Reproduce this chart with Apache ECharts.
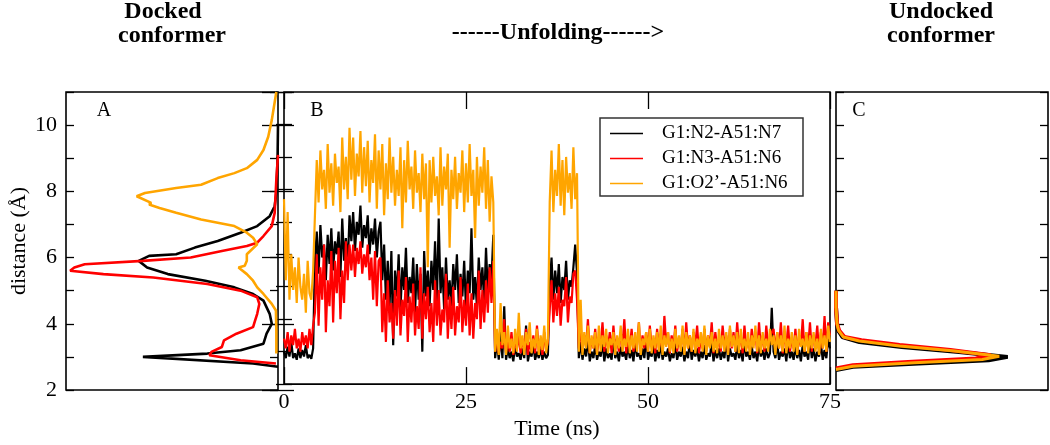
<!DOCTYPE html>
<html>
<head>
<meta charset="utf-8">
<script src="https://cdn.jsdelivr.net/npm/echarts@6/dist/echarts.min.js"></script>
<style>html,body{margin:0;padding:0;background:#fff;}#c{width:1050px;height:445px;}</style>
</head>
<body>
<div id="c"></div>
<script>
// ---------- names / colours ----------
const seriesNames = ['G1:N2-A51:N7', 'G1:N3-A51:N6', 'G1:O2\u2019-A51:N6'];
const seriesColors = ['#000000', '#ff0000', '#ffa500'];

// ---------- Panel A (docked conformer distributions) : distance / relative population ----------
const aBlackDist = [2.7,2.8,3.0,3.1,3.2,3.4,3.7,4.0,4.3,4.7,4.9,5.1,5.3,5.5,5.7,5.9,6.05,6.1,6.3,6.5,6.75,6.95,7.25,7.55,7.95,9.0,10.0];
const aBlackProb = [0,0.12,0.65,0.34,0.18,0.07,0.055,0.03,0.04,0.07,0.12,0.21,0.35,0.53,0.63,0.67,0.62,0.49,0.40,0.29,0.18,0.10,0.04,0.016,0.008,0.002,0];
const aRedDist = [2.8,2.9,3.05,3.15,3.3,3.5,3.7,3.9,4.1,4.3,4.6,4.8,5.0,5.2,5.4,5.5,5.6,5.7,5.8,5.9,6.0,6.2,6.35,6.45,6.65,6.95,7.35,8.35,9.1];
const aRedProb = [0.01,0.18,0.33,0.32,0.27,0.26,0.20,0.12,0.11,0.10,0.09,0.10,0.18,0.34,0.60,0.84,1.0,0.98,0.93,0.65,0.42,0.27,0.15,0.10,0.07,0.03,0.016,0.008,0];
const aOrangeDist = [3.1,3.8,4.4,4.6,4.9,5.1,5.3,5.5,5.7,5.75,5.9,6.1,6.4,6.6,6.75,6.95,7.15,7.35,7.5,7.6,7.65,7.85,7.95,8.1,8.2,8.4,8.55,8.7,8.95,9.25,9.65,10.15,11.0];
const aOrangeProb = [0.008,0.008,0.01,0.03,0.07,0.10,0.12,0.15,0.19,0.16,0.15,0.15,0.10,0.12,0.15,0.21,0.37,0.49,0.57,0.62,0.61,0.68,0.64,0.49,0.37,0.29,0.21,0.15,0.10,0.07,0.047,0.03,0.008];

// ---------- Panel C (undocked conformer distributions) ----------
const cBlackDist = [5.0,4.5,4.0,3.8,3.6,3.45,3.3,3.15,3.0,2.9,2.8,2.7,2.6];
const cBlackProb = [0,0,0.005,0.01,0.03,0.11,0.31,0.58,0.81,0.72,0.39,0.08,0];
const cRedDist = [5.0,4.5,4.0,3.8,3.6,3.5,3.36,3.21,3.05,2.95,2.85,2.75,2.65];
const cRedProb = [0,0,0.005,0.015,0.04,0.12,0.30,0.54,0.73,0.66,0.36,0.08,0];
const cOrangeDist = [5.0,4.5,4.0,3.8,3.6,3.48,3.33,3.18,3.02,2.92,2.82,2.72,2.62];
const cOrangeProb = [0,0,0.005,0.012,0.035,0.11,0.30,0.56,0.77,0.69,0.37,0.08,0];

// ---------- Panel B time series, one value every 0.25 ns (0 .. 75 ns) ----------
const timeStep = 0.25;
const timeTicks = [0, 25, 50, 75];
const bBlack = [
3.0,2.8,3.15,2.85,3.3,2.8,2.95,2.75,3.1,2.8,
3.05,2.85,3.2,2.8,2.9,2.78,3.1,5.8,6.7,5.4,
6.9,5.9,6.3,5.2,6.6,5.7,6.8,5.5,6.4,6.0,
6.7,5.3,7.1,5.8,6.5,5.6,7.2,6.4,7.3,6.1,
7.0,6.6,7.5,6.2,6.9,6.5,7.2,6.0,6.8,6.3,
7.1,5.9,6.7,7.0,5.2,6.3,4.6,5.8,4.4,6.1,
3.2,5.5,4.7,6.0,4.3,5.6,4.9,6.2,4.5,5.3,
4.8,5.9,4.2,5.7,4.6,5.4,3.0,6.1,4.7,5.5,
4.4,5.8,4.9,6.4,4.5,7.1,4.8,5.6,4.3,5.9,
4.6,5.2,4.4,5.7,4.9,6.0,4.5,5.4,4.7,5.8,
4.3,5.5,4.8,6.8,4.6,5.3,4.4,5.9,4.9,5.6,
4.5,6.2,4.8,5.7,5.2,6.6,2.8,3.3,2.75,3.6,
2.8,4.4,2.75,3.1,2.8,3.0,2.7,3.2,2.85,2.95,
2.75,3.1,2.8,3.8,2.7,3.0,2.85,3.2,2.75,3.0,
2.8,3.1,2.75,3.0,2.8,2.9,5.0,5.9,4.6,5.5,
4.8,5.7,4.5,5.3,4.9,5.8,4.6,5.2,5.0,5.6,
6.3,5.4,2.8,3.3,2.75,3.1,2.85,3.4,2.7,3.0,
2.8,3.2,2.75,3.0,2.85,3.3,2.7,3.1,2.8,2.95,
2.75,3.4,2.8,3.0,2.7,3.15,2.85,3.0,2.75,3.2,
2.8,3.05,2.7,3.3,2.85,2.95,2.75,3.1,2.8,3.5,
2.75,3.0,2.85,3.2,2.7,3.05,2.8,3.3,2.75,3.0,
2.85,3.1,2.7,2.95,2.8,3.25,2.75,3.0,2.85,3.15,
2.7,3.0,2.8,3.35,2.75,3.05,2.85,3.1,2.7,3.0,
2.8,3.2,2.75,2.95,2.85,3.3,2.7,3.05,2.8,3.1,
2.75,3.0,2.8,3.4,2.7,3.1,2.85,2.95,2.75,3.2,
2.8,3.05,2.7,3.3,2.85,3.0,2.75,3.15,2.8,3.0,
2.7,3.2,2.85,3.05,2.75,3.1,2.8,2.95,4.35,3.0,
2.8,3.25,2.75,3.0,2.85,3.1,2.7,3.3,2.8,3.0,
2.75,3.15,2.8,3.05,2.7,3.2,2.85,3.0,2.75,3.35,
2.8,3.1,2.7,3.0,2.85,3.25,2.75,3.05,2.8,3.4,
3.1];
const bRed = [
3.4,3.1,3.6,3.0,3.5,3.2,3.7,3.1,3.4,3.0,
3.6,3.2,3.5,3.1,3.7,3.2,3.8,4.2,6.0,3.8,
5.6,4.6,6.3,3.6,5.2,4.4,6.1,3.9,5.8,4.8,
6.2,4.0,5.5,4.5,6.4,5.2,6.3,5.5,6.3,5.3,
6.2,5.7,6.4,5.4,6.0,5.6,6.3,5.2,5.9,4.6,
6.1,4.4,5.8,5.9,3.6,4.8,3.3,5.2,3.9,4.5,
3.4,4.9,3.8,5.5,3.5,4.6,4.1,5.3,3.3,4.7,
3.9,5.1,3.5,4.4,3.7,5.6,3.4,4.8,4.0,5.0,
3.6,4.5,3.3,5.2,3.8,4.9,3.5,4.3,3.9,5.4,
3.4,4.7,3.7,5.0,3.5,4.4,3.9,5.3,3.6,4.6,
3.8,5.1,3.5,4.8,3.4,4.5,4.0,5.5,3.7,4.9,
3.9,5.2,4.2,5.6,4.5,5.8,3.0,3.5,2.95,3.3,
3.1,4.0,2.95,3.4,3.0,3.6,2.9,3.3,3.1,3.5,
2.95,3.4,3.05,3.7,2.9,3.3,3.0,3.5,2.95,3.8,
3.0,3.4,2.9,3.6,3.05,3.3,4.3,5.2,3.9,4.8,
4.1,5.0,3.8,4.6,4.4,5.3,3.9,4.7,4.5,5.4,
5.5,4.6,3.1,3.8,3.0,3.5,3.2,4.0,2.95,3.4,
3.1,3.7,2.95,3.4,3.2,3.9,3.0,3.5,3.1,3.6,
2.95,3.8,3.1,3.4,3.0,3.6,3.2,4.0,2.95,3.5,
3.1,3.7,3.0,3.3,3.2,3.9,2.95,3.5,3.1,3.6,
3.0,3.8,3.15,3.4,2.95,3.7,3.1,3.5,3.0,4.1,
3.2,3.6,2.95,3.5,3.1,3.8,3.0,3.4,3.15,3.7,
2.95,3.9,3.1,3.5,3.0,3.6,3.2,3.8,2.95,3.4,
3.1,3.7,3.0,3.5,3.15,3.9,2.95,3.6,3.1,3.4,
3.0,3.8,3.2,3.5,2.95,3.7,3.1,3.6,3.0,3.9,
3.15,3.5,2.95,3.8,3.1,3.4,3.0,3.7,3.2,3.6,
2.95,3.9,3.1,3.5,3.0,3.8,3.15,3.4,3.6,3.7,
3.0,3.6,3.1,3.9,2.95,3.5,3.2,3.8,3.0,3.4,
3.1,3.7,2.95,3.5,3.15,4.0,3.0,3.6,3.1,3.9,
3.0,3.5,3.2,3.8,2.95,3.6,3.1,4.1,3.0,3.9,
3.5];
const bOrange = [
7.7,5.2,7.3,4.6,6.0,4.9,5.6,4.5,5.9,5.0,
4.6,5.4,4.2,5.8,4.8,4.6,5.5,7.2,8.9,7.6,
9.2,8.0,8.6,7.4,9.4,7.9,8.8,7.5,9.1,8.2,
8.7,7.3,9.6,8.0,9.0,7.7,9.9,8.3,9.6,7.8,
9.1,8.4,9.8,7.9,9.3,8.1,9.5,7.6,8.9,8.2,
9.7,7.4,9.2,8.0,9.4,7.2,8.8,7.7,9.6,7.9,
9.0,7.5,8.6,7.8,9.3,6.8,8.9,7.6,9.5,8.0,
8.7,7.4,9.2,7.9,8.5,7.3,9.1,7.7,8.8,5.6,
8.9,7.6,9.0,7.8,8.4,7.2,9.3,7.5,8.7,8.0,
9.1,6.2,8.6,7.7,9.0,7.4,8.5,7.9,9.2,7.3,
8.8,7.6,9.4,7.8,8.6,6.5,9.0,7.5,8.7,7.9,
9.3,7.4,8.9,7.0,8.4,7.6,3.0,3.7,2.9,4.5,
3.2,3.6,2.9,3.8,3.1,3.4,2.95,3.7,3.0,4.2,
3.1,3.5,2.9,3.6,3.2,3.9,2.95,3.4,3.1,3.7,
2.9,3.5,3.05,3.8,2.95,3.4,7.6,9.2,7.3,8.6,
7.8,9.4,7.5,8.9,7.2,9.0,7.9,8.5,7.4,9.3,
7.7,8.5,3.0,4.6,2.9,3.6,3.1,3.8,2.95,3.5,
3.1,3.6,2.9,3.8,3.0,3.5,3.15,3.7,2.95,3.4,
3.2,3.6,2.9,3.5,3.1,3.8,3.0,3.4,3.15,3.7,
2.95,3.5,3.1,3.6,3.0,3.9,2.9,3.4,3.2,3.6,
3.0,3.7,2.95,3.5,3.1,3.6,3.0,3.8,2.9,3.5,
3.15,3.6,3.0,3.4,2.95,3.7,3.1,3.5,3.0,3.8,
2.9,3.6,3.1,3.5,3.0,3.7,2.95,3.4,3.15,3.6,
3.0,3.8,2.9,3.5,3.1,3.6,3.0,3.4,2.95,3.7,
3.1,3.5,3.0,3.6,2.9,3.8,3.15,3.5,3.0,3.6,
2.95,3.7,3.1,3.4,3.0,3.6,2.9,3.5,3.1,3.8,
3.0,3.5,2.95,3.6,3.1,3.4,3.0,3.7,3.2,3.5,
2.9,3.6,3.1,3.5,3.0,3.8,2.95,3.4,3.1,3.6,
3.0,3.5,2.9,3.7,3.15,3.4,3.0,3.6,2.95,3.5,
3.1,3.6,3.0,3.4,2.9,3.7,3.1,3.5,3.0,3.8,
3.3];

// ---------- build ----------
const FONT = 'Liberation Serif';
const pairsPD = (p, d) => p.map((v, i) => [v, d[i]]);
const pairsT = arr => arr.map((v, i) => [i * timeStep, v]);

const tick = (len) => ({show: true, inside: true, length: len, lineStyle: {color: '#000', width: 1.3}});
const yAx = (grid, pos, interval, len, labels, extra) => Object.assign({
  type: 'value', gridIndex: grid, position: pos, min: 2, max: 11, interval: interval, offset: 0,
  axisLine: {show: false}, splitLine: {show: false},
  axisTick: tick(len),
  axisLabel: labels ? {show: true, fontFamily: FONT, fontSize: 22, color: '#000', margin: 9,
    formatter: v => (v === 11 ? '' : String(v))} : {show: false}
}, extra || {});

const gridStyle = {show: true, borderColor: '#000', borderWidth: 1.6, backgroundColor: 'transparent'};

const chart = echarts.init(document.getElementById('c'), null, {renderer: 'canvas'});
const lineS = (name, color, xi, yi, data, w) => ({
  name: name, type: 'line', xAxisIndex: xi, yAxisIndex: yi, data: data,
  showSymbol: false, symbol: 'none', color: color, clip: true,
  lineStyle: {color: color, width: w, join: 'bevel'}, emphasis: {disabled: true}, animation: false
});

chart.setOption({
  animation: false,
  backgroundColor: '#fff',
  grid: [
    Object.assign({left: 66, top: 92, width: 212, height: 298}, gridStyle),
    Object.assign({left: 284, top: 92, width: 546, height: 298}, gridStyle),
    Object.assign({left: 836, top: 92, width: 212, height: 298}, gridStyle)
  ],
  xAxis: [
    {type: 'value', gridIndex: 0, min: 0, max: 1.02, inverse: true, show: false},
    {type: 'value', gridIndex: 1, min: timeTicks[0], max: timeTicks[timeTicks.length - 1], interval: 25, position: 'bottom',
     axisLine: {show: false}, splitLine: {show: false}, axisTick: tick(17),
     axisLabel: {fontFamily: FONT, fontSize: 22, color: '#000', margin: 7},
     name: 'Time (ns)', nameLocation: 'middle', nameGap: 30,
     nameTextStyle: {fontFamily: FONT, fontSize: 22, color: '#000'}},
    {type: 'value', gridIndex: 1, min: 0, max: 75, interval: 25, position: 'top',
     axisLine: {show: false}, splitLine: {show: false}, axisTick: tick(17), axisLabel: {show: false}},
    {type: 'value', gridIndex: 2, min: 0, max: 1, show: false}
  ],
  yAxis: [
    yAx(0, 'left', 2, 16, true, {name: 'distance (\u00c5)', nameLocation: 'middle', nameGap: 36, nameRotate: 90,
      nameTextStyle: {fontFamily: FONT, fontSize: 22, color: '#000'}}),
    yAx(0, 'left', 1, 8, false),
    yAx(0, 'right', 2, 16, false),
    yAx(0, 'right', 1, 8, false),
    yAx(1, 'left', 1, 8, false),
    yAx(1, 'right', 1, 8, false),
    yAx(2, 'left', 1, 8, false),
    yAx(2, 'right', 1, 8, false)
  ],
  legend: {
    data: seriesNames, orient: 'vertical', left: 610, top: 124, itemGap: 6, padding: 0,
    icon: 'rect', itemWidth: 33, itemHeight: 1.5, selectedMode: false,
    textStyle: {fontFamily: FONT, fontSize: 19, color: '#000', padding: [0, 0, 0, 14]}
  },
  graphic: [
    {type: 'rect', shape: {x: 600, y: 118, width: 203, height: 78}, style: {fill: null, stroke: '#333', lineWidth: 1.5}, z: 10},
    {type: 'text', x: 104, y: 111, style: {text: 'A', font: '20px "Liberation Serif"', fill: '#000', textAlign: 'center', textVerticalAlign: 'middle'}},
    {type: 'text', x: 317, y: 111, style: {text: 'B', font: '20px "Liberation Serif"', fill: '#000', textAlign: 'center', textVerticalAlign: 'middle'}},
    {type: 'text', x: 859, y: 111, style: {text: 'C', font: '20px "Liberation Serif"', fill: '#000', textAlign: 'center', textVerticalAlign: 'middle'}},
    {type: 'text', x: 163, y: 12, style: {text: 'Docked', font: 'bold 24px "Liberation Serif"', fill: '#000', textAlign: 'center', textVerticalAlign: 'middle'}},
    {type: 'text', x: 172, y: 36, style: {text: 'conformer', font: 'bold 24px "Liberation Serif"', fill: '#000', textAlign: 'center', textVerticalAlign: 'middle'}},
    {type: 'text', x: 558, y: 33, style: {text: '------Unfolding------>', font: 'bold 24px "Liberation Serif"', fill: '#000', textAlign: 'center', textVerticalAlign: 'middle'}},
    {type: 'text', x: 941, y: 12, style: {text: 'Undocked', font: 'bold 24px "Liberation Serif"', fill: '#000', textAlign: 'center', textVerticalAlign: 'middle'}},
    {type: 'text', x: 941, y: 36, style: {text: 'conformer', font: 'bold 24px "Liberation Serif"', fill: '#000', textAlign: 'center', textVerticalAlign: 'middle'}}
  ],
  series: [
    lineS(seriesNames[0], seriesColors[0], 0, 0, pairsPD(aBlackProb, aBlackDist), 2.6),
    lineS(seriesNames[1], seriesColors[1], 0, 0, pairsPD(aRedProb, aRedDist), 2.6),
    lineS(seriesNames[2], seriesColors[2], 0, 0, pairsPD(aOrangeProb, aOrangeDist), 2.6),
    lineS(seriesNames[0], seriesColors[0], 1, 4, pairsT(bBlack), 2.2),
    lineS(seriesNames[1], seriesColors[1], 1, 4, pairsT(bRed), 2.2),
    lineS(seriesNames[2], seriesColors[2], 1, 4, pairsT(bOrange), 2.2),
    lineS(seriesNames[0], seriesColors[0], 3, 6, pairsPD(cBlackProb, cBlackDist), 4),
    lineS(seriesNames[1], seriesColors[1], 3, 6, pairsPD(cRedProb, cRedDist), 4),
    lineS(seriesNames[2], seriesColors[2], 3, 6, pairsPD(cOrangeProb, cOrangeDist), 3)
  ]
});
</script>
</body>
</html>
